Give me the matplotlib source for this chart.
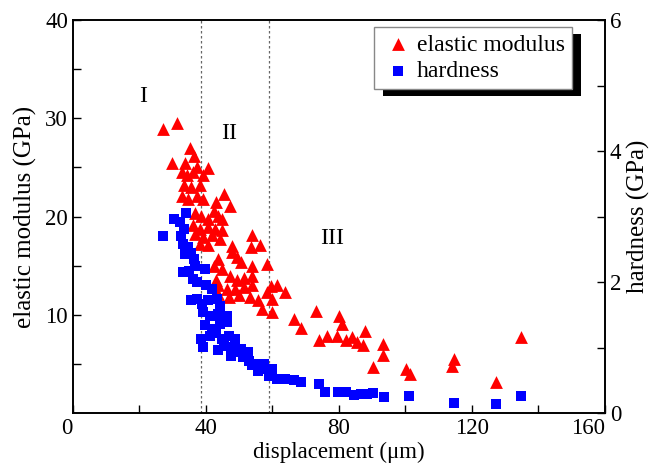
import numpy as np
import matplotlib
matplotlib.use("Agg")
import matplotlib.pyplot as plt
from matplotlib.patches import Rectangle

plt.rcParams['font.family'] = ['Liberation Serif', 'DejaVu Serif']

# elastic modulus (GPa) vs displacement (um)
mod_x = [27.1, 31.4, 29.9, 33.7, 35.2, 36.4, 32.7, 34.3, 36.2, 37.4, 40.6, 39.3,
         33.4, 35.6, 38.1, 32.7, 34.7, 37.4, 39.3, 43.1, 45.4, 47.3, 42.5, 36.8,
         38.7, 40.6, 43.8, 45.0, 36.2, 38.1, 40.6, 42.7, 45.0, 36.8, 39.3, 41.8,
         44.3, 38.1, 40.6, 53.8, 56.4, 53.6, 47.8, 47.8, 49.4, 50.7, 43.8, 42.5,
         45.0, 53.8, 58.3, 47.3, 49.3, 51.4, 53.8, 43.1, 43.8, 46.3, 48.8, 51.4,
         53.8, 43.8, 46.9, 50.1, 53.2, 55.8, 58.3, 59.6, 61.4, 63.7, 57.0, 59.9,
         59.9, 66.5, 68.7, 73.0, 74.0, 76.3, 79.4, 80.1, 81.0, 82.2, 83.9, 85.4,
         87.9, 87.3, 90.4, 93.3, 93.2, 100.3, 101.5, 114.6, 114.1, 127.4, 134.9]
mod_y = [28.9, 29.5, 25.5, 25.5, 27.0, 26.2, 24.5, 24.2, 24.5, 25.0, 24.9, 24.2,
         23.2, 23.0, 23.2, 22.1, 21.8, 22.1, 21.8, 21.5, 22.3, 21.1, 20.6, 20.4,
         20.1, 19.8, 20.1, 19.8, 19.1, 18.7, 18.9, 18.7, 18.6, 18.2, 17.9, 18.1,
         17.7, 17.2, 17.1, 18.1, 17.1, 16.9, 17.0, 16.4, 15.9, 15.4, 15.7, 15.0,
         14.7, 15.0, 15.2, 14.0, 13.5, 13.8, 14.0, 13.5, 13.0, 12.6, 12.6, 12.8,
         13.0, 12.1, 11.8, 12.0, 11.8, 11.5, 12.3, 12.9, 13.0, 12.3, 10.6, 10.3,
         11.6, 9.6, 8.7, 10.4, 7.4, 7.9, 7.9, 9.9, 9.1, 7.4, 7.7, 7.2,
         8.4, 6.9, 4.7, 7.0, 5.9, 4.5, 4.0, 5.5, 4.8, 3.2, 7.7]

# hardness (GPa) vs displacement (um)
hard_x = [27.1, 30.5, 32.2, 33.9, 33.4, 32.4, 33.0, 34.7, 35.6, 36.4, 33.6, 33.0,
          34.9, 36.8, 39.7, 36.2, 37.4, 40.0, 41.9, 35.6, 37.4, 38.9, 40.8, 43.3,
          44.4, 39.3, 41.2, 43.8, 46.3, 39.9, 41.9, 44.4, 46.3, 41.2, 43.1, 45.0,
          46.9, 48.8, 38.5, 39.3, 43.8, 45.6, 47.5, 48.8, 50.7, 52.6, 47.5, 51.3,
          53.0, 53.8, 55.7, 57.6, 55.7, 57.6, 59.9, 58.9, 61.4, 63.9, 66.5, 68.7,
          74.0, 75.9, 79.7, 82.2, 84.7, 86.6, 88.5, 90.4, 93.6, 101.1, 114.6, 127.4,
          134.9]
hard_y = [2.70, 2.96, 2.92, 3.06, 2.81, 2.71, 2.58, 2.53, 2.45, 2.35, 2.43, 2.15,
          2.17, 2.25, 2.20, 2.05, 2.00, 1.95, 1.90, 1.72, 1.74, 1.67, 1.72, 1.74,
          1.64, 1.54, 1.49, 1.51, 1.49, 1.34, 1.29, 1.36, 1.39, 1.18, 1.23, 1.13,
          1.18, 1.13, 1.13, 1.01, 0.96, 1.03, 1.01, 0.93, 0.98, 0.93, 0.88, 0.85,
          0.80, 0.73, 0.75, 0.75, 0.65, 0.68, 0.68, 0.57, 0.52, 0.52, 0.50, 0.48,
          0.45, 0.32, 0.33, 0.32, 0.27, 0.29, 0.29, 0.31, 0.24, 0.26, 0.16, 0.14,
          0.26]

stage_lines = [38.5, 59]
stage_names = ["I", "II", "III"]
stage_pos = [(21, 32.2), (46.9, 28.5), (77.9, 17.8)]

fig = plt.figure(figsize=(6.56, 4.76), dpi=100)
ax = fig.add_axes([0.111, 0.132, 0.811, 0.826])
ax2 = ax.twinx()

ax.scatter(mod_x, mod_y, marker='^', s=85, color='#ff0000', linewidths=0, label='elastic modulus', zorder=3)
ax2.scatter(hard_x, hard_y, marker='s', s=55, color='#0000ff', linewidths=0, label='hardness', zorder=3)

for xv in stage_lines:
    ax.axvline(xv, color='#666666', linestyle=(0, (2, 2)), linewidth=0.9, zorder=1)
for name, (tx, ty) in zip(stage_names, stage_pos):
    ax.text(tx, ty, name, fontsize=17, ha='center', va='center')

ax.set_xlim(0, 160)
ax.set_ylim(0, 40)
ax2.set_ylim(0, 6)
ax.set_xticks([0, 40, 80, 120, 160])
ax.set_xticks([20, 60, 100, 140], minor=True)
ax.set_yticks([10, 20, 30, 40])
ax.set_yticks([5, 15, 25, 35], minor=True)
ax2.set_yticks([0, 2, 4, 6])
ax2.set_yticks([1, 3, 5], minor=True)

for a in (ax, ax2):
    a.tick_params(which='both', direction='in', labelsize=16.5, top=False)
    a.tick_params(which='both', length=6, width=1)
    for sp in a.spines.values():
        sp.set_linewidth(1.2)
ax2.tick_params(left=False)

# end labels pushed off the corners, as in the original
xl = ax.get_xticklabels()
xl[0].set_horizontalalignment('right')
xl[-1].set_horizontalalignment('right')

ax.set_xlabel("displacement (μm)", fontsize=16.5, labelpad=2)
ax.set_ylabel("elastic modulus (GPa)", fontsize=18, labelpad=6)
ax2.set_ylabel("hardness (GPa)", fontsize=18, labelpad=4)

h1, l1 = ax.get_legend_handles_labels()
h2, l2 = ax2.get_legend_handles_labels()
leg = ax2.legend(h1 + h2, l1 + l2, loc='upper right', bbox_to_anchor=(0.938, 0.982),
                 borderaxespad=0, fontsize=17, fancybox=False, framealpha=1,
                 edgecolor='#888888', handletextpad=0.1, borderpad=0.3,
                 labelspacing=0.2, handlelength=1.4)
leg.get_frame().set_linewidth(1.0)
leg.set_zorder(10)

# hard black shadow behind the legend box
fig.canvas.draw()
bb = leg.get_window_extent().transformed(fig.transFigure.inverted())
dx, dy = 9 / 656, 7 / 476
ax2.add_patch(Rectangle((bb.x0 + dx, bb.y0 - dy), bb.width, bb.height,
                        transform=fig.transFigure, facecolor='black',
                        edgecolor='none', zorder=9, clip_on=False))

fig.savefig("out.png", dpi=100)
